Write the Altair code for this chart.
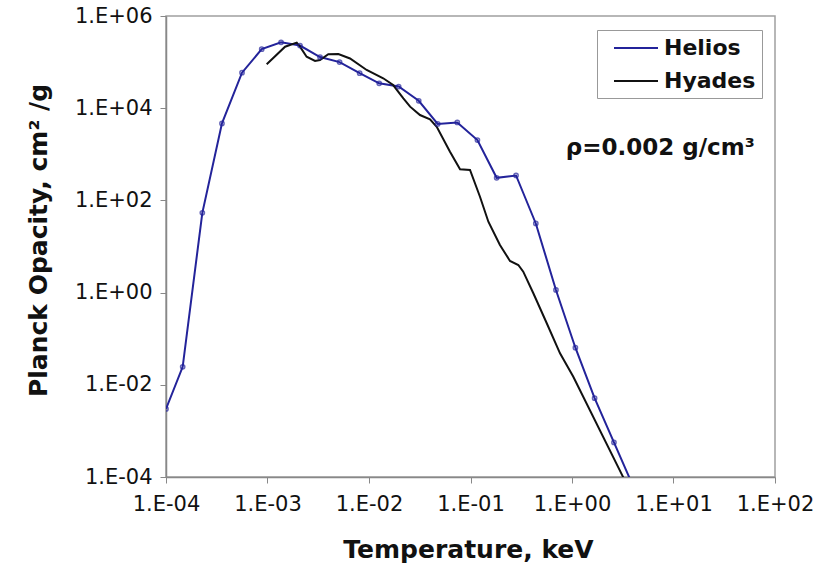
import altair as alt
import pandas as pd

# Helios (blue, with markers)
helios_T = [1.0e-4, 1.46e-4, 2.28e-4, 3.56e-4, 5.61e-4, 8.77e-4, 1.36e-3, 2.09e-3,
            3.29e-3, 5.13e-3, 8.09e-3, 1.26e-2, 1.96e-2, 3.09e-2, 4.75e-2, 7.41e-2,
            0.117, 0.181, 0.281, 0.440, 0.695, 1.08, 1.67, 2.59, 4.02]
helios_K = [3.0e-3, 2.45e-2, 53.7, 4.68e3, 5.89e4, 1.91e5, 2.69e5, 2.29e5,
            1.29e5, 1.0e5, 5.75e4, 3.47e4, 2.95e4, 1.45e4, 4.57e3, 4.90e3,
            2.04e3, 309, 347, 31.6, 1.14, 6.38e-2, 5.13e-3, 5.62e-4, 6.17e-5]

# Hyades (black line)
hyades_T = [9.82e-4, 1.49e-3, 1.94e-3, 2.09e-3, 2.43e-3, 2.94e-3, 3.29e-3, 3.97e-3,
            4.99e-3, 6.50e-3, 9.48e-3, 1.38e-2, 1.73e-2, 2.18e-2, 2.54e-2, 3.18e-2,
            3.99e-2, 4.65e-2, 6.28e-2, 7.89e-2, 9.89e-2, 0.124, 0.150, 0.195,
            0.245, 0.296, 0.331, 0.416, 0.564, 0.762, 1.03, 3.20, 3.55]
hyades_K = [8.95e4, 2.16e5, 2.64e5, 2.16e5, 1.31e5, 1.06e5, 1.11e5, 1.48e5,
            1.50e5, 1.20e5, 6.74e4, 4.46e4, 3.18e4, 1.64e4, 1.08e4, 7.11e3,
            5.74e3, 3.96e3, 1.14e3, 473, 457, 120, 34.5, 10.8,
            4.85, 3.97, 2.84, 0.966, 0.216, 4.82e-2, 1.50e-2, 9.84e-5, 6.3e-5]

series_names = ["Helios", "Hyades"]
series_colors = ["#23239a", "#111111"]
x_ticks = [1e-4, 1e-3, 1e-2, 1e-1, 1e0, 1e1, 1e2]
y_ticks = [1e-4, 1e-2, 1e0, 1e2, 1e4, 1e6]
annotation = "\u03c1=0.002 g/cm\u00b3"

df = pd.concat([
    pd.DataFrame({"T": helios_T, "K": helios_K, "series": "Helios", "order": range(len(helios_T))}),
    pd.DataFrame({"T": hyades_T, "K": hyades_K, "series": "Hyades", "order": range(len(hyades_T))}),
])
df_h = df[df.series == "Helios"]

label_expr = ("'1.E' + (round(log(datum.value)/LN10) < 0 ? '-' : '+') + "
              "(abs(round(log(datum.value)/LN10)) < 10 ? '0' : '') + "
              "abs(round(log(datum.value)/LN10))")

FONT = "DejaVu Sans"

xs = alt.Scale(type="log", domain=[1e-4, 1e2], nice=False)
ys = alt.Scale(type="log", domain=[1e-4, 1e6], nice=False)

xenc = alt.X("T:Q", scale=xs, axis=alt.Axis(
    title="Temperature, keV", values=x_ticks, labelExpr=label_expr,
    grid=False, tickSize=6, labelPadding=10, labelFontSize=21, labelFont=FONT,
    labelColor="#111", titleFontSize=25, titleFont=FONT, titleFontWeight="bold",
    titleColor="#111", titleX=302, titleY=72, titleBaseline="middle",
    domainColor="#888", tickColor="#888", domainWidth=1.5, labelFlush=False))
yenc = alt.Y("K:Q", scale=ys, axis=alt.Axis(
    title="Planck Opacity, cm\u00b2 /g", values=y_ticks, labelExpr=label_expr,
    grid=False, tickSize=6, labelPadding=8, labelFontSize=21, labelFont=FONT,
    labelColor="#111", titleFontSize=25, titleFont=FONT, titleFontWeight="bold",
    titleColor="#111", titleX=-128, titleY=224, titleAngle=-90,
    titleAlign="center", titleBaseline="middle",
    domainColor="#888", tickColor="#888", domainWidth=1.5, labelFlush=False))

color = alt.Color("series:N", scale=alt.Scale(domain=series_names, range=series_colors),
                  legend=alt.Legend(title=None, orient="none", legendX=431, legendY=14,
                                    symbolType="M-2,0H2", symbolSize=484, symbolStrokeWidth=2,
                                    symbolOffset=21,
                                    labelFont=FONT, labelFontSize=22, labelFontWeight="bold",
                                    labelColor="#111", strokeColor="#999", fillColor="white",
                                    padding=6, rowPadding=10, labelOffset=16))

lines = alt.Chart(df).mark_line(strokeWidth=2, clip=True).encode(
    x=xenc, y=yenc, color=color, order="order:Q")

points = alt.Chart(df_h).mark_point(size=18, filled=False, strokeWidth=1.5,
                                    color=series_colors[0], clip=True).encode(
    x=alt.X("T:Q", scale=xs), y=alt.Y("K:Q", scale=ys))

ann = alt.Chart(pd.DataFrame({"T": [7.4], "K": [1380], "t": [annotation]})).mark_text(
    font=FONT, fontSize=23, fontWeight="bold", color="#111", align="center",
    baseline="middle").encode(x=alt.X("T:Q", scale=xs), y=alt.Y("K:Q", scale=ys), text="t:N")

chart = alt.layer(lines, points, ann).properties(
    width=609, height=461,
    autosize=alt.AutoSizeParams(type="none"),
    padding={"left": 166, "top": 16, "right": 40, "bottom": 96},
    background="white",
).configure_view(stroke="#a0a0a0", strokeWidth=1.5)

chart.save("out.html", embed_options={"renderer": "svg", "actions": False})
